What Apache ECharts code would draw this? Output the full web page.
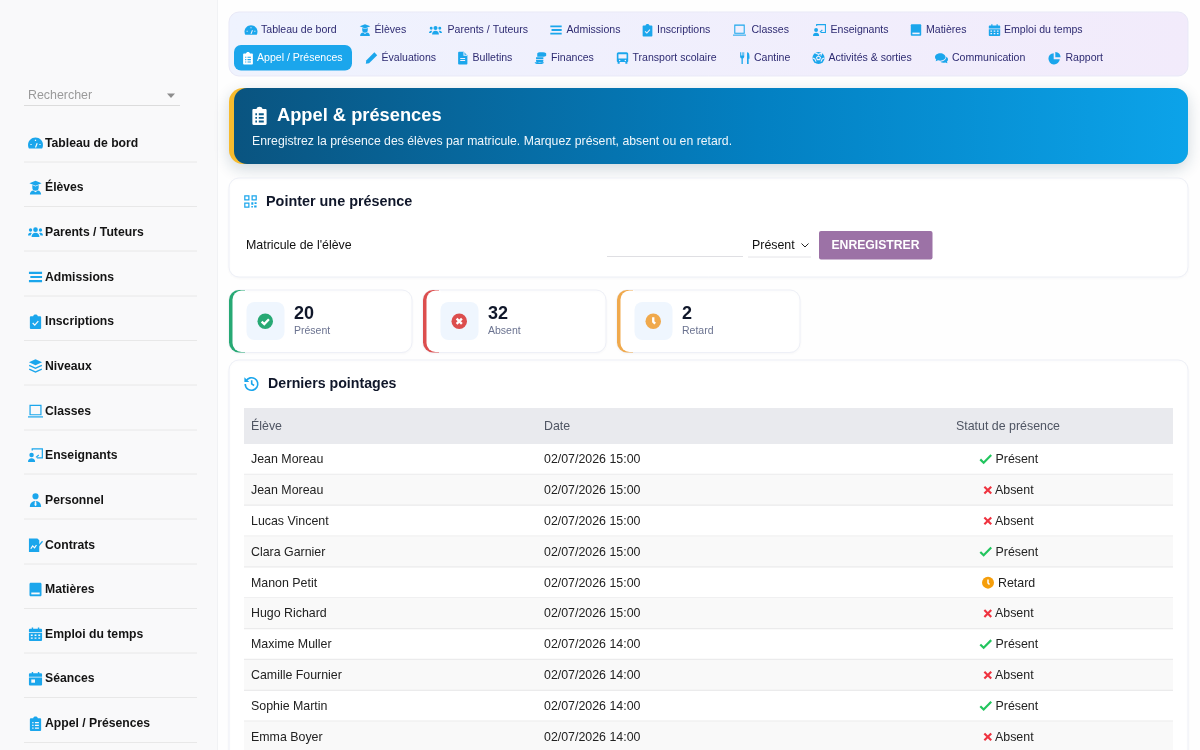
<!DOCTYPE html>
<html lang="fr">
<head>
<meta charset="utf-8">
<title>Appel & présences</title>
<script src="https://cdn.jsdelivr.net/npm/echarts@6/dist/echarts.min.js"></script>
<style>
html,body{margin:0;padding:0;background:#fff;overflow:hidden}
#main{width:1200px;height:750px}
</style>
</head>
<body>
<div id="main"></div>
<script>
// page content
var sideLabels = ['Tableau de bord','Élèves','Parents / Tuteurs','Admissions','Inscriptions','Niveaux','Classes','Enseignants','Personnel','Contrats','Matières','Emploi du temps','Séances','Appel / Présences'];
var tabLabelsTop = ['Tableau de bord','Élèves','Parents / Tuteurs','Admissions','Inscriptions','Classes','Enseignants','Matières','Emploi du temps'];
var tabLabelsBottom = ['Appel / Présences','Évaluations','Bulletins','Finances','Transport scolaire','Cantine','Activités & sorties','Communication','Rapport'];
var statLabels = ['Présent','Absent','Retard'];
var statValues = [20, 32, 2];
var tableHead = ['Élève','Date','Statut de présence'];
var students = ['Jean Moreau','Jean Moreau','Lucas Vincent','Clara Garnier','Manon Petit','Hugo Richard','Maxime Muller','Camille Fournier','Sophie Martin','Emma Boyer'];
var dates = ['02/07/2026 15:00','02/07/2026 15:00','02/07/2026 15:00','02/07/2026 15:00','02/07/2026 15:00','02/07/2026 15:00','02/07/2026 14:00','02/07/2026 14:00','02/07/2026 14:00','02/07/2026 14:00'];
var statuses = ['Présent','Absent','Absent','Présent','Retard','Absent','Présent','Absent','Présent','Absent'];

// layout, kept apart from the content
var sideIcons = ['gauge','grad','users','bars','clipcheck','layers','laptop','teacher','person','contract','book','calendar','seance','cliplist'];
var sideY = [143,187.5,232,277,321.5,366,411,455,500,545,589.5,634,678.5,723.5];
var tabIconsTop = ['gauge','grad','users','bars','clipcheck','laptop','teacher','book','calendar'];
var tabIconsBottom = ['cliplist','pen','filedoc','coins','bus','utensils','soccer','chat','pie'];
var tabTextTop = [261,374.5,447.5,566.5,657,751.5,830.5,926,1004];
var tabTextBottom = [257,381.5,472.5,551,632.5,754,828.5,952,1065.5];
var tabIconTop = [244.5,358.5,429,549.5,641,733,813,909.5,988];
var tabIconBottom = [241.5,365,456.5,534,616,738.5,812,935,1048];
var FONT = '"Liberation Sans", Arial, sans-serif';
var BLUE = '#1ba6ec';

function circ(cx, cy, r) {
    return 'M' + (cx - r) + ' ' + cy + 'a' + r + ' ' + r + ' 0 1 0 ' + (2 * r) + ' 0a' + r + ' ' + r + ' 0 1 0 ' + (-2 * r) + ' 0z';
}
var CLIP = 'M3 2.5h2.5C5.7 1.3 6.7.6 8 .6s2.3.7 2.5 1.9H13c.6 0 1 .4 1 1V15c0 .6-.4 1-1 1H3c-.6 0-1-.4-1-1V3.5c0-.6.4-1 1-1z';
var CAL = 'M2 2.5h2V1h1.5v1.5h5V1H12v1.5h2c.6 0 1 .4 1 1V6H1V3.5c0-.6.4-1 1-1zM1 7h14v7.5c0 .6-.4 1-1 1H2c-.6 0-1-.4-1-1z';
// f fill, h fill with the background, s stroke, t stroke with the background
var ICONS = {
    gauge: [['M8 2C3.6 2 0 5.600 0 10c0 1.500.4 2.800 1 3.800h14c.6-1 1-2.300 1-3.800C16 5.600 12.400 2 8 2z','f'],['M2.600 9.600h1.300M12.100 9.600h1.300M8 4.600v1.200M8 12.800l1.800-4.500','t']],
    grad: [['M8 .8l6.500 2.600L8 6 1.500 3.400zM4.600 5.400L8 6.800l3.400-1.400V8a3.400 3.400 0 0 1-6.800 0zM2 15.500c0-2.800 1.600-4.200 3.600-4.400L8 13l2.400-1.900c2 .2 3.600 1.600 3.600 4.400z','f']],
    users: [[circ(8,5.500,2.500)+circ(2.700,5.800,1.800)+circ(13.300,5.800,1.800)+'M3.800 13.400c0-2.600 1.500-4.500 4.200-4.500s4.200 1.900 4.200 4.500zM0 11.800c0-1.800 1-3 2.600-3 .6 0 1 .1 1.400.4-.8.8-1.200 1.800-1.300 2.600zM16 11.800c0-1.800-1-3-2.600-3-.6 0-1 .1-1.400.4.8.8 1.200 1.800 1.300 2.600z','f']],
    bars: [['M1 2.500h14v2.200H1zM2.500 6.900H15v2.200H2.500zM1 11.300h14v2.200H1z','f']],
    clipcheck: [[CLIP,'f'],['M5 9.600l2.200 2.200L11 7.600','t']],
    cliplist: [[CLIP,'f'],['M4.500 7h1.400M7.400 7h4.200M4.500 10h1.400M7.400 10h4.200M4.500 13h1.400M7.400 13h4.200','t']],
    layers: [['M8 .8l7 3.200-7 3.200L1 4zM1.500 6.600L8 9.600l6.500-3 .5 1.300-7 3.200-7-3.200zM1.500 10.600l6.500 3 6.500-3 .5 1.300-7 3.200-7-3.200z','f']],
    laptop: [['M2.200 2h11.600v10H2.200z','s'],['M0 14.300h16','s']],
    teacher: [[circ(3.800,8,2.400)+'M0 15.500c0-2.700 1.500-4 3.800-4s3.800 1.300 3.800 4z','f'],['M4.500 3.200V1.400h10.800V11H9.500','s'],['M8.500 10.500l3-2.500','s']],
    person: [[circ(8,4,3.300)+'M2 15.500c0-4 2-6.500 6-6.500s6 2.500 6 6.500z','f'],['M7.300 9.400h1.400l.4 3.800L8 14.600l-1.100-1.400z','h']],
    contract: [['M1 1h9l2 2v12.500H1z','f'],['M3 12l2-3 2 2 2-3','t'],['M9.500 10l5.500-6.500 1 1-5.500 6.500-1.600.8z','f']],
    book: [['M3 .8h10c.8 0 1.400.6 1.400 1.400v11.600c0 .8-.6 1.400-1.400 1.400H3c-.8 0-1.400-.6-1.400-1.400V2.200C1.600 1.400 2.200.8 3 .8z','f'],['M3.500 11.200h9v2h-9z','h']],
    calendar: [[CAL,'f'],['M3 8.500h2V10H3zM7 8.500h2V10H7zM11 8.500h2V10h-2zM3 11.600h2v1.500H3zM7 11.600h2v1.500H7zM11 11.600h2v1.500h-2z','h']],
    seance: [[CAL,'f'],['M3.500 9h4v3.500h-4z','h']],
    pen: [['M11.500 1l3.500 3.500L5 14.500 1 15l.5-4z','f']],
    filedoc: [['M3 .4h6l4.400 4.400V15c0 .6-.4 1-1 1H3c-.6 0-1-.4-1-1V1.400c0-.6.4-1 1-1z','f'],['M9.200 .6v4h3.800','t'],['M4.600 8.500h6M4.600 11h6','t']],
    coins: [['M2.500 10.500h9v1.600c0 .9-2 1.700-4.500 1.700s-4.500-.8-4.500-1.700zM2.500 7h9v2.600h-9zM1 14c1 1 3.200 1.500 5.500 1.500S11 15 12 14v-.8H1zM4 2.500C4 1.600 6.200 1 9 1s6 .6 6 1.500V5c0 .7-1.500 1.200-3 1.400H4z','f']],
    bus: [['M3 1h10c1 0 2 1 2 2v9c0 .6-.4 1-1 1v2h-2.500v-2h-7v2H2v-2c-.6 0-1-.4-1-1V3c0-1 1-2 2-2z','f'],['M3 3.500h10v5H3z'+circ(4.500,11,.9)+circ(11.500,11,.9),'h']],
    utensils: [['M2 1h1v4h1V1h1v4h1V1h1v5.500c0 1-.7 1.800-1.700 2V15.500H3.700V8.500C2.700 8.300 2 7.500 2 6.500zM10.500 1c2 0 3 2 3 5v3h-1v6.500h-2z','f']],
    soccer: [[circ(8,8,7.500),'f'],['M8 5.500l2.400 1.700-.9 2.800h-3l-.9-2.800zM4 1.800L8 3.500l4-1.700-1 3.300M.8 8l2.700 1.200L5 12.500M15.200 8l-2.700 1.200L11 12.500','t']],
    chat: [['M6.500 2C3 2 0 4 0 6.800c0 1.200.6 2.300 1.500 3.100L.8 12l3-1.100c.8.3 1.700.4 2.700.4 3.500 0 6.500-2 6.500-4.500S10 2 6.500 2zM14 6.500c1.200.8 2 1.900 2 3.200 0 1-.5 2-1.300 2.700l.6 2-2.700-1c-.7.2-1.400.3-2.100.3-1.500 0-2.900-.4-3.900-1.100 3.800-.1 7.200-2.500 7.400-6.100z','f']],
    pie: [['M7 2v7.500h7.500A7 7 0 1 1 7 2zM9 .5A7 7 0 0 1 15.500 7H9z','f']],
    qr: [['M1 1h5v5H1zM10 1h5v5h-5zM1 10h5v5H1z','s'],['M9 9h2.500v3H9zM13 9h2.500v2H13zM12.500 13h3v2.500h-3zM9 13.500h2v2H9z','f']],
    history: [['M2.300 5A6.700 6.700 0 1 1 1.300 8.500','s'],['M.4 1.200v5.200h5.200z','f'],['M8.200 4.500v3.900l2.600 1.700','s']],
    checkcircle: [[circ(8,8,8),'f'],['M4.300 8.300l2.700 2.600 4.800-5','t']],
    xcircle: [[circ(8,8,8),'f'],['M5.300 5.300l5.400 5.400M10.700 5.300l-5.400 5.400','t']],
    clock: [[circ(8,8,8),'f'],['M8 3.800V8.500l2 2','t']],
    check: [['M1 8.800l4.300 4.200L15 3.200','s']],
    cross: [['M2.500 2.500l11 11M13.500 2.500l-11 11','s']]
};

var nodes = [];
function rect(x, y, w, h, fill, r, extra) {
    var st = {fill: fill};
    for (var k in extra) st[k] = extra[k];
    nodes.push({type: 'rect', shape: {x: x, y: y, width: w, height: h, r: r || 0}, style: st});
}
function text(s, x, y, size, color, weight, align) {
    nodes.push({type: 'text', x: x, y: y + 0.7, style: {
        text: s, fill: color, fontSize: size, fontFamily: FONT, fontWeight: weight || 'normal',
        textAlign: align || 'left', textVerticalAlign: 'middle', textBaseline: 'middle'
    }});
}
function hline(x1, x2, y, color, w) {
    nodes.push({type: 'line', shape: {x1: x1, y1: y, x2: x2, y2: y}, style: {stroke: color, lineWidth: w || 1}});
}
function icon(name, x, y, size, color, bg, lw) {
    var k = size / 16;
    ICONS[name].forEach(function (layer) {
        var mode = layer[1], stroked = mode === 's' || mode === 't';
        var paint = mode === 'f' || mode === 's' ? color : bg;
        nodes.push({
            type: 'path', x: x, y: y, scaleX: k, scaleY: k, shape: {pathData: layer[0]},
            style: stroked ? {fill: 'none', stroke: paint, lineWidth: lw || 1.5} : {fill: paint, stroke: 'none'}
        });
    });
}

function drawSidebar() {
    rect(0, 0, 217, 750, '#f9f9fa');
    rect(217, 0, 1, 750, '#f1f2f4');
    text('Rechercher', 28, 94.5, 12.4, '#9a9a9a');
    hline(24, 180, 105.5, '#dcdcdc');
    nodes.push({type: 'polygon', shape: {points: [[167, 93.5], [175, 93.5], [171, 98]]}, style: {fill: '#8d8d8d'}});
    sideLabels.forEach(function (s, i) {
        icon(sideIcons[i], 28, sideY[i] - 7.5, 15, BLUE, '#f9f9fa', 1.3);
        text(s, 45, sideY[i] - 0.2, 12.2, '#141414', 'bold');
        hline(24, 197, sideY[i] + 19, '#e8e8e8', 1);
    });
}

function drawTabs() {
    rect(229, 12, 959, 64, new echarts.graphic.LinearGradient(0, 0, 1, 0, [
        {offset: 0, color: '#eff3fe'}, {offset: 1, color: '#f2ebfb'}
    ]), 10, {stroke: '#e9e9f7', lineWidth: 1});
    rect(234, 45, 118, 25.5, BLUE, 7);
    tabLabelsTop.forEach(function (s, i) {
        icon(tabIconsTop[i], tabIconTop[i], 23.5, 13, BLUE, '#f0f0fc', 1.3);
        text(s, tabTextTop[i], 29.6, 10.55, '#2e2b72');
    });
    tabLabelsBottom.forEach(function (s, i) {
        var active = i === 0;
        icon(tabIconsBottom[i], tabIconBottom[i], 51.5, 13, active ? '#fff' : BLUE, active ? BLUE : '#f0f0fc', 1.3);
        text(s, tabTextBottom[i], 57.6, 10.55, active ? '#fff' : '#2e2b72');
    });
}

function drawHero() {
    rect(229, 88, 959, 76, '#f7bb2e', 14, {shadowBlur: 16, shadowColor: 'rgba(20,60,90,0.2)', shadowOffsetY: 5});
    rect(234, 88, 954, 76, new echarts.graphic.LinearGradient(0, 0, 1, 0.08, [
        {offset: 0, color: '#0a5480'}, {offset: 0.55, color: '#0380c2'}, {offset: 1, color: '#0ca3e9'}
    ]), 13);
    icon('cliplist', 250, 106, 19, '#fff', '#0a5a88', 1.6);
    text('Appel & présences', 277, 115.5, 18.3, '#fff', 'bold');
    text('Enregistrez la présence des élèves par matricule. Marquez présent, absent ou en retard.', 252, 140.5, 12.25, '#eef6fb');
}

function card(x, y, w, h) {
    rect(x, y, w, h, '#fff', 10, {stroke: '#eef0f7', lineWidth: 1, shadowBlur: 3, shadowColor: 'rgba(40,50,90,0.03)', shadowOffsetY: 1});
}

function drawForm() {
    card(229, 178, 959, 99);
    icon('qr', 244, 195, 13, BLUE, '#fff', 1.5);
    text('Pointer une présence', 266, 201, 14.4, '#10172a', 'bold');
    text("Matricule de l'élève", 246, 244.5, 12.4, '#111');
    hline(607, 743, 256.5, '#dfdfe3', 1);
    text('Présent', 752, 244.5, 12.4, '#111');
    nodes.push({type: 'polyline', shape: {points: [[801.5, 243.5], [805, 247], [808.5, 243.5]]}, style: {fill: 'none', stroke: '#222', lineWidth: 1}});
    hline(748, 811, 257, '#e4e4e8', 1);
    rect(819, 231, 113.5, 28.5, '#9c72a6', 2);
    text('ENREGISTRER', 875.5, 244.5, 12.2, '#fff', 'bold', 'center');
}

function drawStats() {
    var colors = ['#27a974', '#dc4e4e', '#f0a94c'];
    var marks = ['checkcircle', 'xcircle', 'clock'];
    statLabels.forEach(function (s, i) {
        var x = 229 + i * 194;
        card(x, 290, 183, 62.5);
        rect(x, 290, 16, 62.5, colors[i], [10, 0, 0, 10]);
        rect(x + 3.5, 290.5, 14, 61.5, '#fff', [9, 0, 0, 9]);
        rect(x + 17.5, 302, 38, 38, '#eff6fe', 8);
        icon(marks[i], x + 28.5, 313.5, 15.5, colors[i], '#fff', 2.4);
        text(String(statValues[i]), x + 65, 313.5, 18, '#10172a', 'bold');
        text(s, x + 65, 330, 10.5, '#6b7390');
    });
}

function drawTable() {
    card(229, 360, 959, 440);
    icon('history', 244, 376, 15, BLUE, '#fff', 1.7);
    text('Derniers pointages', 268, 383.5, 14.2, '#10172a', 'bold');
    rect(244, 408, 929, 36, '#e9eaee');
    text(tableHead[0], 251, 425.7, 12.4, '#4f5563');
    text(tableHead[1], 544, 425.7, 12.4, '#4f5563');
    text(tableHead[2], 1008, 425.7, 12.4, '#4f5563', 'normal', 'center');
    var rowH = 30.85;
    students.forEach(function (name, i) {
        var top = 444 + i * rowH, mid = top + rowH / 2 - 0.4;
        if (i % 2 === 1) rect(244, top, 929, rowH, '#f9f9f9');
        hline(244, 1173, top + rowH - 0.5, '#ebebec', 1.2);
        text(name, 251, mid, 12.4, '#222');
        text(dates[i], 544, mid, 12.4, '#222');
        var st = statuses[i];
        if (st === 'Présent') {
            icon('check', 979.5, mid - 6.5, 12.5, '#22c55e', '#fff', 2.8);
            text(st, 995.5, mid, 12.4, '#222');
        } else if (st === 'Absent') {
            icon('cross', 982.8, mid - 4.8, 10, '#ef3340', '#fff', 3.4);
            text(st, 995, mid, 12.4, '#222');
        } else {
            icon('clock', 982, mid - 5.8, 12, '#f59e0b', '#fff', 2);
            text(st, 998, mid, 12.4, '#222');
        }
    });
}

rect(0, 0, 1200, 750, '#fefefe');
drawSidebar();
drawTabs();
drawHero();
drawForm();
drawStats();
drawTable();

var myChart = echarts.init(document.getElementById('main'), null, {renderer: 'canvas'});
myChart.setOption({
    animation: false,
    tooltip: {show: false},
    series: [{
        type: 'custom',
        coordinateSystem: 'none',
        silent: true,
        clip: false,
        data: [0],
        renderItem: function () {
            return {type: 'group', children: nodes};
        }
    }]
});
</script>
</body>
</html>
